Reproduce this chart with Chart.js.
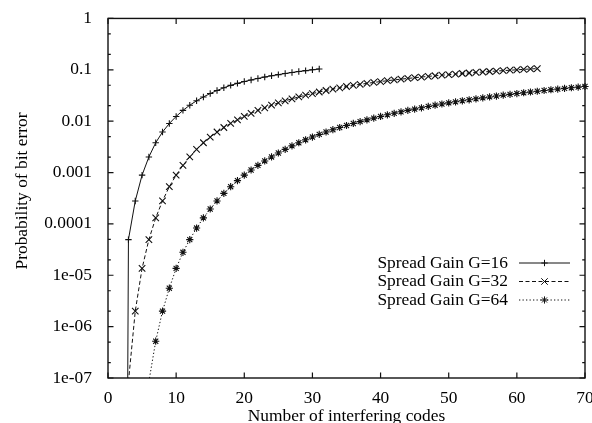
<!DOCTYPE html>
<html>
<head>
<meta charset="utf-8">
<title>Probability of bit error vs. number of interfering codes</title>
<script src="https://cdn.jsdelivr.net/npm/chart.js@4.4.1/dist/chart.umd.min.js"></script>
<style>
  html, body { margin: 0; padding: 0; background: #ffffff; }
  #wrap { width: 592px; height: 423px; }
</style>
</head>
<body>
<div id="wrap"><canvas id="ber" width="592" height="423"></canvas></div>
<script>
// First number of interfering codes of each curve (one point per code after that)
const startG16 = 2;
const startG32 = 3;
const startG64 = 6;

// Probability of bit error, spread gain G=16 (codes 2..31)
const berG16 = [
  1e-30, 4.95e-5, 2.8e-4, 8.91e-4, 2.01e-3, 3.80e-3, 6.15e-3, 9.02e-3, 0.01236, 0.01622,
  0.02046, 0.02495, 0.02965, 0.03451, 0.03954, 0.0447, 0.0498, 0.05445, 0.05902, 0.06353,
  0.06792, 0.07228, 0.07656, 0.08054, 0.08472, 0.08872, 0.09268, 0.09638, 0.1, 0.1038
];

// Probability of bit error, spread gain G=32 (codes 3..63)
const berG32 = [
  8.5e-8, 2.0e-6, 1.36e-5, 4.95e-5, 1.31e-4, 2.8e-4, 5.30e-4, 8.91e-4, 1.38e-3, 2.01e-3,
  2.83e-3, 3.80e-3, 4.91e-3, 6.15e-3, 7.53e-3, 9.02e-3, 0.01059, 0.01236, 0.01422, 0.01622,
  0.0182, 0.02046, 0.0227, 0.02495, 0.02723, 0.02965, 0.03206, 0.03451, 0.03698, 0.03954,
  0.04217, 0.0447, 0.04732, 0.0498, 0.05212, 0.05445, 0.05675, 0.05902, 0.06138, 0.06353,
  0.06577, 0.06792, 0.07015, 0.07228, 0.07447, 0.07656, 0.07852, 0.08054, 0.0826, 0.08472,
  0.0867, 0.08872, 0.09057, 0.09268, 0.09462, 0.09638, 0.09817, 0.1, 0.1019, 0.1038,
  0.1057
];

// Probability of bit error, spread gain G=64 (codes 6..70)
const berG64 = [
  8.5e-8, 5.2e-7, 2.0e-6, 5.6e-6, 1.36e-5, 2.8e-5, 4.95e-5, 8.3e-5, 1.31e-4, 1.95e-4,
  2.8e-4, 3.93e-4, 5.30e-4, 6.95e-4, 8.91e-4, 1.12e-3, 1.38e-3, 1.68e-3, 2.01e-3, 2.40e-3,
  2.83e-3, 3.30e-3, 3.80e-3, 4.34e-3, 4.91e-3, 5.52e-3, 6.15e-3, 6.82e-3, 7.53e-3, 8.24e-3,
  9.02e-3, 9.79e-3, 0.01059, 0.01146, 0.01236, 0.0133, 0.01422, 0.01521, 0.01622, 0.01718,
  0.0182, 0.01936, 0.02046, 0.02158, 0.0227, 0.02382, 0.02495, 0.02609, 0.02723, 0.02841,
  0.02965, 0.03087, 0.03206, 0.0333, 0.03451, 0.03576, 0.03698, 0.03824, 0.03954, 0.04087,
  0.04217, 0.04345, 0.0447, 0.046, 0.04732
];

const seriesNames = ['Spread Gain G=16', 'Spread Gain G=32', 'Spread Gain G=64'];

const xTickValues = [0, 10, 20, 30, 40, 50, 60, 70];
const xTickLabels = ['0', '10', '20', '30', '40', '50', '60', '70'];
const yTickValues = [1, 0.1, 0.01, 0.001, 0.0001, 1e-5, 1e-6, 1e-7];
const yTickLabels = ['1', '0.1', '0.01', '0.001', '0.0001', '1e-05', '1e-06', '1e-07'];
const yMinorSteps = [2, 5];

const xTitle = 'Number of interfering codes';
const yTitle = 'Probability of bit error';

const FONT_FAMILY = '"Liberation Serif", "Times New Roman", "DejaVu Serif", serif';
const FONT_SIZE = 17.4;
const INK = '#111111';

function toPoints(start, values) {
  return values.map((v, i) => ({ x: start + i, y: v }));
}

function lineStyle(label, values, start, dash, marker, radius) {
  return {
    label: label,
    data: toPoints(start, values),
    borderColor: INK,
    borderWidth: 1,
    borderDash: dash,
    pointStyle: marker,
    pointRadius: radius,
    pointBorderWidth: 1.1,
    pointBorderColor: INK,
    pointBackgroundColor: INK,
    fill: false,
    tension: 0,
    clip: { left: 0, top: 0, right: 6, bottom: 0 }
  };
}

// Frame with inward tics on all four sides, the rotated y label and the key
const frameAndKey = {
  id: 'frameAndKey',
  afterDatasetsDraw(chart) {
    const ctx = chart.ctx;
    const a = chart.chartArea;
    const xs = chart.scales.x;
    const ys = chart.scales.y;
    const major = 5.5;
    const minor = 2.8;

    ctx.save();
    ctx.strokeStyle = INK;
    ctx.lineWidth = 1.4;
    ctx.setLineDash([]);
    ctx.strokeRect(a.left, a.top, a.right - a.left, a.bottom - a.top);

    ctx.lineWidth = 1.2;
    ctx.beginPath();
    xTickValues.forEach(v => {
      const px = xs.getPixelForValue(v);
      ctx.moveTo(px, a.bottom); ctx.lineTo(px, a.bottom - major);
      ctx.moveTo(px, a.top);    ctx.lineTo(px, a.top + major);
    });
    yTickValues.forEach(v => {
      const py = ys.getPixelForValue(v);
      ctx.moveTo(a.left, py);  ctx.lineTo(a.left + major, py);
      ctx.moveTo(a.right, py); ctx.lineTo(a.right - major, py);
      if (v < 1) {
        yMinorSteps.forEach(m => {
          const pm = ys.getPixelForValue(v * m);
          ctx.moveTo(a.left, pm);  ctx.lineTo(a.left + minor, pm);
          ctx.moveTo(a.right, pm); ctx.lineTo(a.right - minor, pm);
        });
      }
    });
    ctx.stroke();

    ctx.fillStyle = '#000';
    ctx.font = FONT_SIZE + 'px ' + FONT_FAMILY;

    // y label
    ctx.save();
    ctx.translate(22, 191);
    ctx.rotate(-Math.PI / 2);
    ctx.textAlign = 'center';
    ctx.textBaseline = 'middle';
    ctx.fillText(yTitle, 0, 0);
    ctx.restore();

    // key: text right-aligned, then a line sample with the marker in its middle
    const rowY = [263, 281.5, 300];
    chart.data.datasets.forEach((ds, i) => {
      const y = rowY[i];
      ctx.textAlign = 'right';
      ctx.textBaseline = 'middle';
      ctx.fillStyle = '#000';
      ctx.fillText(ds.label, 508, y);
      ctx.strokeStyle = INK;
      ctx.lineWidth = 1;
      ctx.setLineDash(ds.borderDash);
      ctx.beginPath();
      ctx.moveTo(519, y);
      ctx.lineTo(570, y);
      ctx.stroke();
      ctx.setLineDash([]);
      ctx.fillStyle = INK;
      Chart.helpers.drawPoint(ctx, {
        pointStyle: ds.pointStyle, radius: ds.pointRadius, borderWidth: ds.pointBorderWidth, rotation: 0
      }, 544.5, y);
    });
    ctx.restore();
  }
};

new Chart(document.getElementById('ber'), {
  type: 'line',
  data: {
    datasets: [
      lineStyle(seriesNames[0], berG16, startG16, [], 'cross', 3.2),
      lineStyle(seriesNames[1], berG32, startG32, [4, 2.5], 'crossRot', 4.6),
      lineStyle(seriesNames[2], berG64, startG64, [1.3, 2.2], 'star', 3.6)
    ]
  },
  options: {
    responsive: false,
    animation: false,
    devicePixelRatio: 1,
    events: [],
    layout: { padding: { left: 0, right: 7, top: 17, bottom: 0 } },
    plugins: {
      legend: { display: false },
      tooltip: { enabled: false }
    },
    scales: {
      x: {
        type: 'linear',
        min: 0,
        max: 70,
        afterBuildTicks: s => { s.ticks = xTickValues.map(v => ({ value: v })); },
        afterFit: s => { s.height = 45; s.paddingLeft = 0; s.paddingRight = 0; },
        grid: { display: false },
        border: { display: false },
        ticks: {
          color: '#000',
          font: { family: FONT_FAMILY, size: FONT_SIZE },
          padding: 2,
          maxRotation: 0,
          autoSkip: false,
          callback: v => xTickLabels[xTickValues.indexOf(v)]
        },
        title: {
          display: true,
          text: xTitle,
          color: '#000',
          font: { family: FONT_FAMILY, size: FONT_SIZE },
          padding: { top: 0, bottom: -4 }
        }
      },
      y: {
        type: 'logarithmic',
        min: 1e-7,
        max: 1,
        afterBuildTicks: s => { s.ticks = yTickValues.map(v => ({ value: v })); },
        afterFit: s => { s.width = 108; },
        grid: { display: false },
        border: { display: false },
        ticks: {
          color: '#000',
          font: { family: FONT_FAMILY, size: FONT_SIZE },
          padding: 8,
          autoSkip: false,
          callback: v => yTickLabels[yTickValues.indexOf(v)]
        }
      }
    }
  },
  plugins: [frameAndKey]
});
</script>
</body>
</html>
